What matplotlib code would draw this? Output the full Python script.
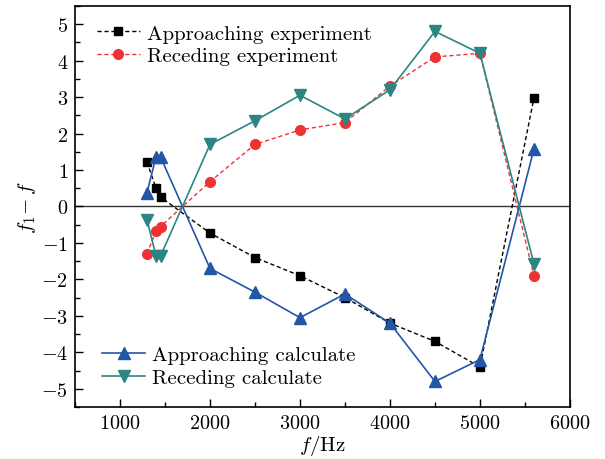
import matplotlib
matplotlib.use('Agg')
import matplotlib.pyplot as plt
from matplotlib.ticker import MultipleLocator

# LaTeX-like look
plt.rcParams['font.family'] = 'serif'
plt.rcParams['font.serif'] = ['cmr10']
plt.rcParams['mathtext.fontset'] = 'cm'
plt.rcParams['axes.formatter.use_mathtext'] = True

# Data
freq = [1300, 1400, 1450, 2000, 2500, 3000, 3500, 4000, 4500, 5000, 5600]
approach_exp = [1.22, 0.5, 0.26, -0.73, -1.4, -1.9, -2.5, -3.2, -3.7, -4.4, 2.97]
recede_exp = [-1.3, -0.68, -0.55, 0.68, 1.7, 2.1, 2.3, 3.3, 4.1, 4.2, -1.9]
approach_calc = [0.38, 1.36, 1.36, -1.7, -2.35, -3.05, -2.4, -3.2, -4.8, -4.2, 1.57]
recede_calc = [-0.36, -1.36, -1.36, 1.7, 2.35, 3.05, 2.4, 3.2, 4.8, 4.2, -1.57]

fig = plt.figure(figsize=(6.05, 4.6), dpi=100)
ax = fig.add_axes([0.124, 0.113, 0.818, 0.872])

ax.axhline(0, color='#333333', lw=1.0, zorder=1)

l1, = ax.plot(freq, approach_exp, ls='--', color='black', lw=1.0, dashes=(3, 2),
              marker='s', ms=6, label='Approaching experiment', zorder=3)
l2, = ax.plot(freq, recede_exp, ls='--', color='#EE3333', lw=1.0, dashes=(3, 2),
              marker='o', ms=7, label='Receding experiment', zorder=3)
l3, = ax.plot(freq, approach_calc, color='#2456A6', lw=1.2,
              marker='^', ms=8, label='Approaching calculate', zorder=4)
l4, = ax.plot(freq, recede_calc, color='#2B8683', lw=1.2,
              marker='v', ms=8, label='Receding calculate', zorder=4)

ax.set_xlim(500, 6000)
ax.set_ylim(-5.5, 5.5)
ax.xaxis.set_major_locator(MultipleLocator(1000))
ax.xaxis.set_minor_locator(MultipleLocator(500))
ax.yaxis.set_major_locator(MultipleLocator(1))
ax.yaxis.set_minor_locator(MultipleLocator(0.5))
ax.tick_params(which='both', direction='in', top=False, right=False, labelsize=14.5)
ax.tick_params(which='major', length=6, width=1.0, pad=5)
ax.tick_params(which='minor', length=3.5, width=1.0)
for s in ax.spines.values():
    s.set_linewidth(1.2)

ax.set_xlabel(r'$f$/Hz', fontsize=15, labelpad=1)
ax.set_ylabel(r'$f_1\!-f$', fontsize=15, labelpad=2)

leg_kw = dict(frameon=False, fontsize=15, handlelength=2.05, borderpad=0,
              borderaxespad=0, labelspacing=0.2, handletextpad=0.35)
leg1 = ax.legend(handles=[l1, l2], loc='upper left',
                 bbox_to_anchor=(0.044, 0.955), **leg_kw)
ax.add_artist(leg1)
ax.legend(handles=[l3, l4], loc='lower left',
          bbox_to_anchor=(0.055, 0.05), **leg_kw)

fig.savefig('out.png', dpi=100)
